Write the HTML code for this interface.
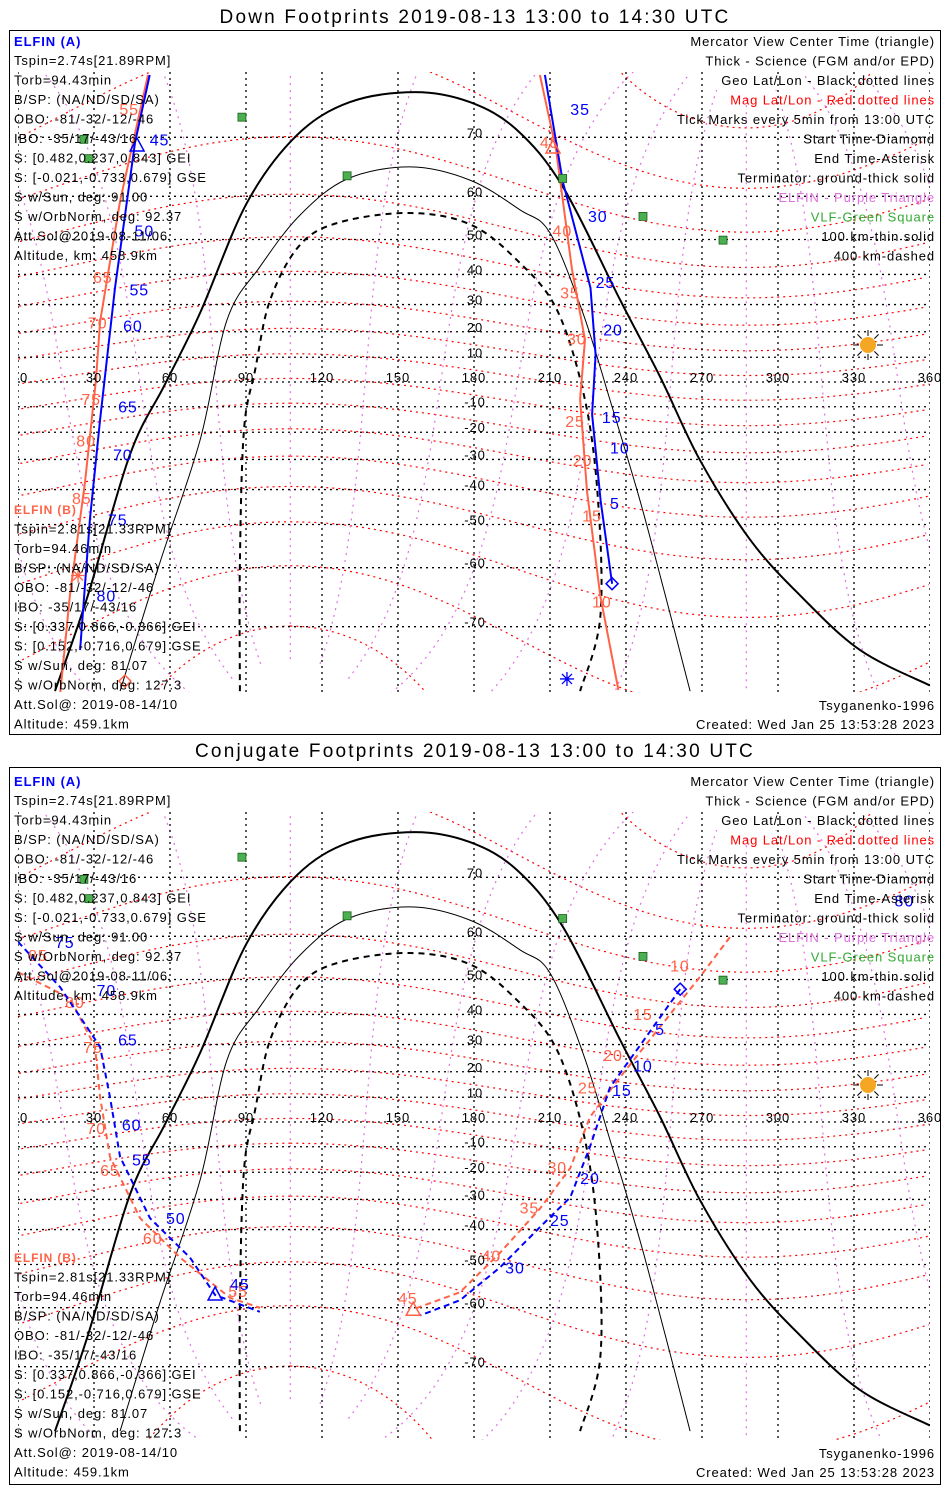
<!DOCTYPE html>
<html><head><meta charset="utf-8"><style>
body{margin:0;background:#fff;width:950px;height:1500px;overflow:hidden}
svg{position:absolute;left:0;top:0}
text{font-family:"Liberation Sans",sans-serif;font-size:13px;letter-spacing:0.9px}
</style></head><body>
<svg id="svg" width="950" height="1500">
<rect x="0" y="0" width="950" height="1500" fill="#fff"/>
<text x="475" y="23" text-anchor="middle" style="font-size:19px;letter-spacing:2.2px">Down Footprints 2019-08-13 13:00 to 14:30 UTC</text>
<rect x="9.5" y="30.5" width="931" height="704" fill="none" stroke="#000"/>
<text x="475" y="757" text-anchor="middle" style="font-size:19px;letter-spacing:2.2px">Conjugate Footprints 2019-08-13 13:00 to 14:30 UTC</text>
<rect x="9.5" y="767.5" width="931" height="717" fill="none" stroke="#000"/>
</svg>
<script>
// ---- data (lon, lat) ----
const lonTicks=[0,30,60,90,120,150,180,210,240,270,300,330,360];
const latTicks=[70,60,50,40,30,20,10,-10,-20,-30,-40,-50,-60,-70];
const termGround=[[14.6,-77.7],[27.6,-66],[44.2,-30],[58,-3],[71.9,25.2],[90.4,57.6],[110.1,69.6],[131,73.8],[156.7,74.9],[178.4,73.8],[197,70.3],[215.2,60.8],[237.7,29.8],[253.5,0],[269.2,-32],[289,-55],[308.7,-66],[332.4,-73.6],[360,-77.2]];
const term100=[[40.3,-77.7],[56,-60],[71.9,-24.8],[82.5,22.6],[95.5,40.8],[111.3,54.8],[129.9,62.4],[154.8,64.6],[178.4,62.2],[198.2,56],[210,50.4],[223,25.2],[233.7,-9.3],[245.6,-45],[255.5,-66],[265.3,-77.7]];
const term400=[[87.6,-77.7],[87.6,-60],[89.2,-21],[93.6,2.8],[99.5,29.8],[111.3,47.2],[127.1,53.1],[154.8,55.3],[178.4,52.6],[197,42.8],[212.8,26.2],[223.8,-9.3],[229,-45],[229.8,-69.5],[221.9,-77.7]];
const greenSites=[[88.4,72],[26,69],[28,66],[129.9,63],[215,62.5],[246.7,54.5],[278.3,48.5]];
// top panel tracks
const downA=[[208,76.6],[215,62],[226,34],[228,9],[226.6,-15],[230,-45],[234.5,-64]];
const downAMag=[[206,76.6],[212.4,67.4],[218.7,40],[223.8,15],[221.9,-9],[224.6,-42],[229.8,-66],[237,-77.6]];
const downB=[[52,76.6],[46.2,68.5],[38.3,34],[32.4,-17],[28.4,-50],[24.5,-73.6]];
const downBMag=[[51.3,76.6],[40.3,58],[32.4,22],[30.8,-1],[26.5,-39],[20.5,-66],[16.6,-78]];
const downALabels=[[218,73,"35"],[225,54.6,"30"],[228,36,"25"],[231,19,"20"],[230.5,-16,"15"],[233.7,-27.5,"10"],[233.7,-45.5,"5"]];
const downAMagLabels=[[206,68.6,"45"],[211,51,"40"],[214,32.5,"35"],[216.7,15.5,"30"],[216,-17.5,"25"],[219,-32,"20"],[222.7,-49,"15"],[226.6,-67,"10"]];
const downBLabels=[[52,69,"45"],[46,51,"50"],[44,33.5,"55"],[41.5,20.5,"60"],[39.5,-12,"65"],[37.5,-30,"70"],[35.5,-50,"75"],[31,-66,"80"]];
const downBMagLabels=[[40,73,"55"],[29.6,37.6,"65"],[27.6,21.7,"70"],[25,-9,"75"],[23,-25,"80"],[21.3,-44,"85"]];
const downMarkers=[[234.5,-64,"diamond","#0000ff"],[42.2,-76.8,"diamond","#ff6347"],[216.7,-76.6,"asterisk","#0000ff"],[23.7,-62.5,"asterisk","#ff6347"],[47,68,"triangle","#0000ff"],[211.2,67.7,"triangle","#ff6347"]];
// bottom panel tracks
const conjA=[[261.4,46],[245.6,28],[233.7,12],[225.8,-12],[218,-31],[206,-40.8],[190.3,-52],[174.5,-59.5],[158.7,-62.5]];
const conjAMag=[[281,58.8],[269.2,49.4],[253.5,34.4],[237.7,16],[225.8,0],[218,-20.3],[206,-34.9],[190.3,-48.2],[174.5,-57.8],[156.7,-61.2]];
const conjB=[[0,57.8],[16.6,46.6],[32.4,27.4],[36.3,8],[40.3,-16],[52.1,-38],[67.9,-49.5],[77.8,-58.4],[95.5,-61.8]];
const conjBMag=[[0,50.6],[20.5,43.4],[30.4,27.4],[32.4,8],[36.3,-16],[48.2,-38],[64,-49.5],[83.7,-59],[95.5,-61]];
const conjALabels=[[251.5,33.7,"5"],[242.8,20.5,"10"],[234.5,11,"15"],[221.9,-24,"20"],[210,-38.5,"25"],[192.3,-52,"30"]];
const conjAMagLabels=[[257.4,52.3,"10"],[242.8,38.5,"15"],[231,24.5,"20"],[221,12,"25"],[209,-20,"30"],[198,-34.5,"35"],[183,-49,"40"],[150,-59,"45"]];
const conjBLabels=[[14.6,57.8,"75"],[31,45.8,"70"],[39.5,30,"65"],[41,-3,"60"],[45,-17,"55"],[58.4,-38,"50"],[83.7,-56,"45"],[346,65.7,"80"]];
const conjBMagLabels=[[4,54.8,"85"],[18.6,42.3,"80"],[25.7,27.4,"75"],[27,-4.5,"70"],[32.4,-21,"65"],[49.3,-44,"60"],[83,-57.5,"55"]];
const conjMarkers=[[261.4,46,"diamond","#0000ff"],[156,-61.5,"triangle","#ff6347"],[77.8,-58.4,"triangle","#0000ff"]];
const leftA=["Tspin=2.74s[21.89RPM]","Torb=94.43min","B/SP: (NA/ND/SD/SA)","OBO: -81/-32/-12/-46","IBO: -35/17/-43/16","S: [0.482,0.237,0.843] GEI","S: [-0.021,-0.733,0.679] GSE","S w/Sun, deg: 91.00","S w/OrbNorm, deg: 92.37","Att.Sol@2019-08-11/06","Altitude, km: 458.9km"];
const leftB=["Tspin=2.81s[21.33RPM]","Torb=94.46min","B/SP: (NA/ND/SD/SA)","OBO: -81/-32/-12/-46","IBO: -35/17/-43/16","S: [0.337,0.866,-0.366] GEI","S: [0.152,-0.716,0.679] GSE","S w/Sun, deg: 81.07","S w/OrbNorm, deg: 127.3","Att.Sol@: 2019-08-14/10","Altitude: 459.1km"];
const rightLegend=[["Mercator View Center Time (triangle)","#000"],["Thick - Science (FGM and/or EPD)","#000"],["Geo Lat/Lon - Black dotted lines","#000"],["Mag Lat/Lon - Red dotted lines","#f00"],["Tick Marks every 5min from 13:00 UTC","#000"],["Start Time-Diamond","#000"],["End Time-Asterisk","#000"],["Terminator: ground-thick solid","#000"],["ELFIN - Purple Triangle","#e070e0"],["VLF-Green Square","#3a3"],["100 km-thin solid","#000"],["400 km-dashed","#000"]];

const svg=document.getElementById('svg');
const NS="http://www.w3.org/2000/svg";
const X0=18,X1=930;
function xs(lon){return X0+lon*(X1-X0)/360;}
function ys(lat,off){const r=lat*Math.PI/180;return off+377-141*Math.log(Math.tan(Math.PI/4+r/2));}
function mk(tag,attrs,parent){const e=document.createElementNS(NS,tag);for(const k in attrs)e.setAttribute(k,attrs[k]);(parent||svg).appendChild(e);return e;}
function pathOf(pts,off){return pts.map((p,i)=>(i?'L':'M')+xs(p[0]).toFixed(1)+','+ys(p[1],off).toFixed(1)).join('');}
function smoothOf(pts,off){const P=pts.map(p=>[xs(p[0]),ys(p[1],off)]);let d='M'+P[0][0].toFixed(1)+','+P[0][1].toFixed(1);
 for(let i=0;i<P.length-1;i++){const p0=P[Math.max(0,i-1)],p1=P[i],p2=P[i+1],p3=P[Math.min(P.length-1,i+2)];
  const c1=[p1[0]+(p2[0]-p0[0])/6,p1[1]+(p2[1]-p0[1])/6],c2=[p2[0]-(p3[0]-p1[0])/6,p2[1]-(p3[1]-p1[1])/6];
  d+='C'+c1[0].toFixed(1)+','+c1[1].toFixed(1)+' '+c2[0].toFixed(1)+','+c2[1].toFixed(1)+' '+p2[0].toFixed(1)+','+p2[1].toFixed(1);}
 return d;}
function txt(x,y,s,fill,parent,anchor,size){const t=mk('text',{x:x,y:y,fill:fill||'#000'},parent);if(anchor)t.setAttribute('text-anchor',anchor);if(size)t.style.fontSize=size+'px';t.textContent=s;return t;}

const TP=9.4*Math.PI/180,PP=287.5;
function mag2geo(mlat,mlon){const l=mlat*Math.PI/180,f=mlon*Math.PI/180;
 const x=Math.cos(l)*Math.cos(f),y=Math.cos(l)*Math.sin(f),z=Math.sin(l);
 const x2=x*Math.cos(TP)+z*Math.sin(TP),z2=-x*Math.sin(TP)+z*Math.cos(TP);
 let lon=Math.atan2(y,x2)*180/Math.PI+PP;lon=((lon%360)+360)%360;
 return [lon,Math.asin(Math.max(-1,Math.min(1,z2)))*180/Math.PI];}
function magPath(fn,n,off){let d='',prev=null;for(let i=0;i<=n;i++){const g=fn(i);if(Math.abs(g[1])>84){prev=null;continue;}
 const x=xs(g[0]),y=ys(g[1],off);d+=(prev===null||Math.abs(g[0]-prev)>180?'M':'L')+x.toFixed(1)+','+y.toFixed(1);prev=g[0];}return d;}

function marker(m,off,g){const x=xs(m[0]),y=ys(m[1],off);let e;
 if(m[2]==='diamond')e=mk('path',{d:`M${x},${y-6}L${x+6},${y}L${x},${y+6}L${x-6},${y}Z`,fill:'none',stroke:m[3],'stroke-width':1.5},g);
 else if(m[2]==='triangle')e=mk('path',{d:`M${x},${y-8}L${x+7},${y+5}L${x-7},${y+5}Z`,fill:'none',stroke:m[3],'stroke-width':1.5},g);
 else e=mk('path',{d:`M${x-7},${y}L${x+7},${y}M${x},${y-7}L${x},${y+7}M${x-5},${y-5}L${x+5},${y+5}M${x-5},${y+5}L${x+5},${y-5}`,stroke:m[3],'stroke-width':1.3},g);
 
 }

function panel(off,name,tr,markers){
 const ext=off?8:0;
 const top=72+off,bot=692+off+ext;
 const cid='clip'+name;
 const defs=mk('defs',{});const cp=mk('clipPath',{id:cid},defs);mk('rect',{x:X0,y:top,width:X1-X0,height:bot-top},cp);
 const g=mk('g',{'clip-path':'url(#'+cid+')'});
 
 
 for(let ml=-80;ml<=80;ml+=10){const p=mk('path',{d:magPath(i=>mag2geo(ml,-180+i*2),180,off),fill:'none',stroke:'#f00','stroke-dasharray':'2,4','stroke-width':1.2},g);
  
  }
 for(let mlo=0;mlo<360;mlo+=30){const p=mk('path',{d:magPath(i=>mag2geo(-84+i,mlo),168,off),fill:'none',stroke:'#e070e0','stroke-dasharray':'2,5','stroke-width':1.2},g);
  
  }
 latTicks.concat([0,80,-80]).forEach(la=>{const y=ys(la,off)+5;const l=mk('line',{x1:X0,x2:X1,y1:y,y2:y,stroke:'#000','stroke-dasharray':'2,4','stroke-width':1.3},g);
  
  });
 lonTicks.forEach(lo=>{const x=xs(lo);const l=mk('line',{x1:x,x2:x,y1:top,y2:bot,stroke:'#000','stroke-dasharray':'2,4','stroke-width':1.3},g);
  
  });
 let t=mk('path',{d:smoothOf(termGround,off),fill:'none',stroke:'#000','stroke-width':2},g);
 
 
 t=mk('path',{d:smoothOf(term100,off),fill:'none',stroke:'#000','stroke-width':1},g);
 
 
 t=mk('path',{d:smoothOf(term400,off),fill:'none',stroke:'#000','stroke-width':2,'stroke-dasharray':'6,5'},g);
 
 
 tr.forEach(s=>{const p=mk('path',{d:pathOf(s.pts,off),fill:'none',stroke:s.c,'stroke-width':2},g);
  if(s.dash)p.setAttribute('stroke-dasharray','6,4');
  
  
  s.lab.forEach(L=>{const e=txt(xs(L[0]),ys(L[1],off)+6,L[2],s.c,g,null,16);
   
   });});
 markers.forEach(m=>marker(m,off,g));
 greenSites.forEach(p=>{const r=mk('rect',{x:xs(p[0])-4,y:ys(p[1],off)-4,width:8,height:8,fill:'#4caf50',stroke:'#1a5e1a','stroke-width':0.8},g);
  
  });
 lonTicks.forEach(lo=>{const e=txt(xs(lo)+(lo===0?2:0),382+off,String(lo),'#000',null,lo===0?'start':'middle');
  
  });
 latTicks.forEach(la=>{const e=txt(475,ys(la,off)+5,String(la),'#000',g,'middle');
  
  });
 const sx=868,sy=345+off;
 for(let a=0;a<8;a++){const an=a*Math.PI/4;const l=mk('line',{x1:sx+9*Math.cos(an),y1:sy+9*Math.sin(an),x2:sx+15*Math.cos(an),y2:sy+15*Math.sin(an),stroke:'#000'},g);
  
  }
 const sun=mk('circle',{cx:sx,cy:sy,r:8,fill:'#f5a623'},g);
 
 
 let e=txt(14,46+off,'ELFIN (A)','#0000ff');e.style.fontWeight='bold';
 
 
 leftA.forEach((s,i)=>{const q=txt(14,65+off+i*19.5,s,'#000');
  
  });
 const by=514+off+ext;
 e=txt(14,by,'ELFIN (B)','#ff6347',null,null,12);e.style.fontWeight='bold';
 
 
 leftB.forEach((s,i)=>{const q=txt(14,by+19.5*(i+1),s,'#000');
  
  });
 rightLegend.forEach((r,i)=>{const q=txt(935,46+off+i*19.5,r[0],r[1],null,'end');
  
  });
 e=txt(935,710+off+ext,'Tsyganenko-1996','#000',null,'end');
 
 
 e=txt(935,729+off+ext,'Created: Wed Jan 25 13:53:28 2023','#000',null,'end');
 
 
}
panel(0,'down',[
 {pts:downAMag,c:'#ff6347',n:'down-a-mag-track',lab:downAMagLabels},
 {pts:downBMag,c:'#ff6347',n:'down-b-mag-track',lab:downBMagLabels},
 {pts:downA,c:'#0000ff',n:'down-a-track',lab:downALabels},
 {pts:downB,c:'#0000ff',n:'down-b-track',lab:downBLabels}],downMarkers);
panel(740,'conjugate',[
 {pts:conjAMag,c:'#ff6347',n:'conj-a-mag-track',lab:conjAMagLabels,dash:1},
 {pts:conjBMag,c:'#ff6347',n:'conj-b-mag-track',lab:conjBMagLabels,dash:1},
 {pts:conjA,c:'#0000ff',n:'conj-a-track',lab:conjALabels,dash:1},
 {pts:conjB,c:'#0000ff',n:'conj-b-track',lab:conjBLabels,dash:1}],conjMarkers);
</script>
</body></html>
